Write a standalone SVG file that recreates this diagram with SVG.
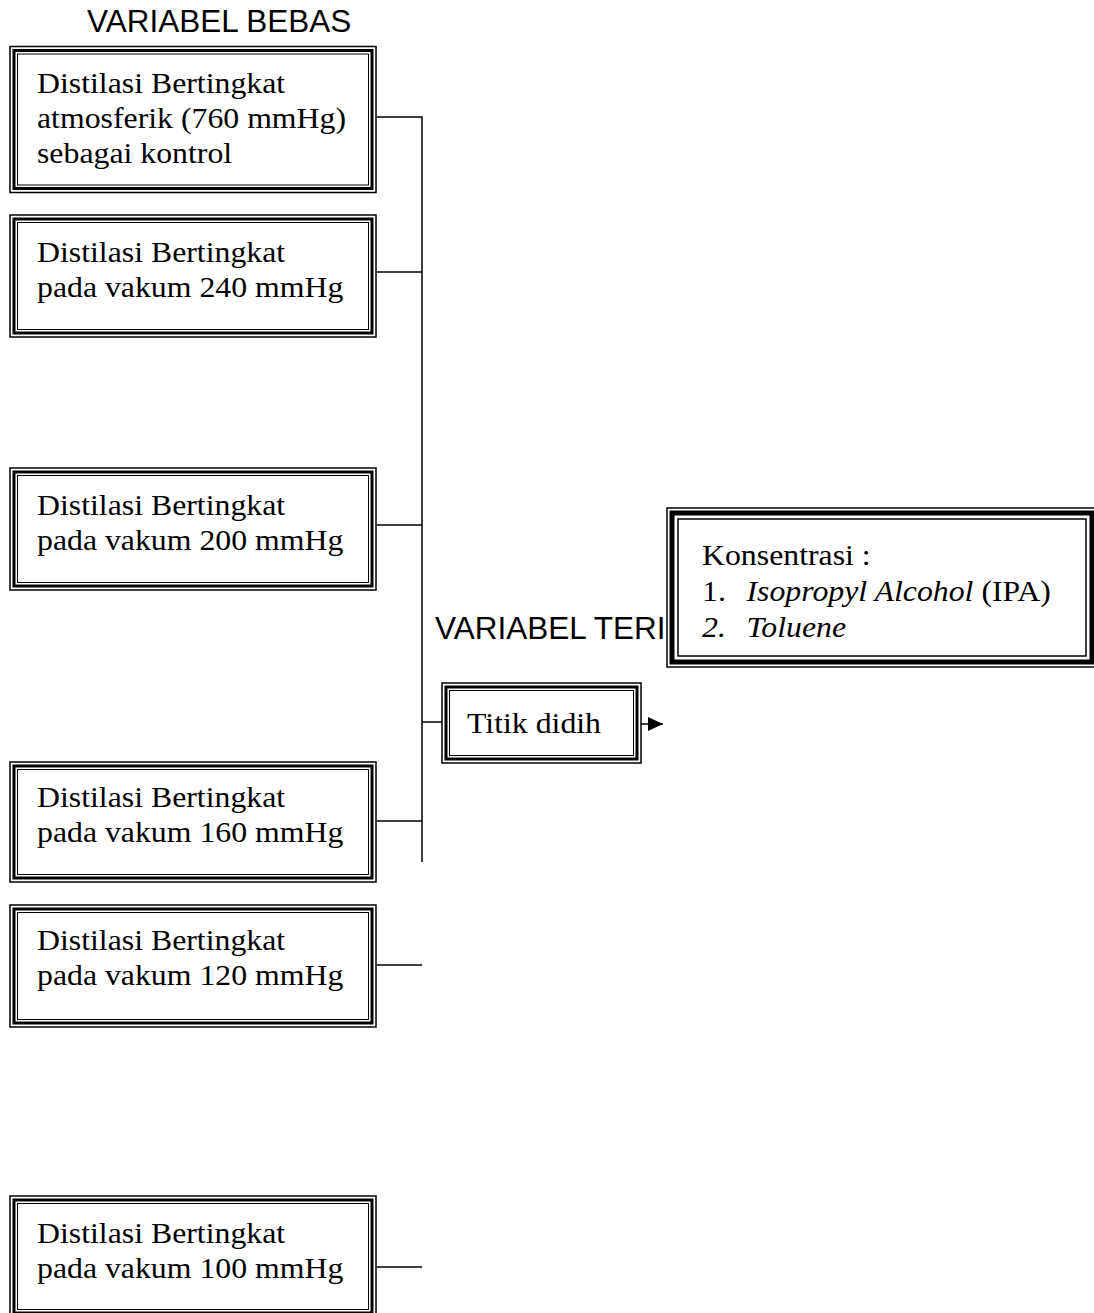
<svg xmlns="http://www.w3.org/2000/svg" width="1094" height="1313" viewBox="0 0 1094 1313">
<style>
.bg{fill:#ffffff}
.o{fill:#ffffff;stroke:#000;stroke-width:1.5}
.m{fill:none;stroke:#000;stroke-width:3}
.i{fill:none;stroke:#000;stroke-width:1}
.mk{fill:none;stroke:#000;stroke-width:5}
.ik{fill:none;stroke:#000;stroke-width:1.5}
.t{font-family:"Liberation Serif","Times New Roman",serif;font-size:30px;fill:#000}
.it{font-style:italic}
.h{font-family:"Liberation Sans",Arial,sans-serif;font-size:31.5px;fill:#000}
.c{fill:none;stroke:#000;stroke-width:1.5}
</style>
<defs>
<marker id="arr" viewBox="0 0 15 14" refX="15" refY="7" markerWidth="15" markerHeight="14" markerUnits="userSpaceOnUse" orient="auto">
<path d="M0,0 L15,7 L0,14 Z" fill="#000"/>
</marker>
</defs>
<rect class="bg" x="0" y="0" width="1094" height="1313"/>

<text class="h" x="87" y="32">VARIABEL BEBAS</text>
<text class="h" x="435" y="639">VARIABEL TERI</text>

<g id="connectors">
<path class="c" d="M377,117 H422 V862"/>
<path class="c" d="M377,272 H422"/>
<path class="c" d="M377,525 H422"/>
<path class="c" d="M377,821 H422"/>
<path class="c" d="M377,965 H422"/>
<path class="c" d="M377,1267 H422"/>
<path class="c" d="M422,722 H442"/>
<path class="c" d="M641,724 H663" marker-end="url(#arr)"/>
</g>

<g id="box-760">
<rect class="o" x="10" y="46.5" width="366" height="146"/>
<rect class="m" x="14" y="50.5" width="358" height="138"/>
<rect class="i" x="17.5" y="54" width="351" height="131"/>
<text class="t" transform="translate(37,93) scale(1.06,1)">Distilasi Bertingkat</text>
<text class="t" transform="translate(37,128) scale(1.06,1)">atmosferik (760 mmHg)</text>
<text class="t" transform="translate(37,163) scale(1.06,1)">sebagai kontrol</text>
</g>

<g id="box-240">
<rect class="o" x="10" y="215" width="366" height="122"/>
<rect class="m" x="14" y="219" width="358" height="114"/>
<rect class="i" x="17.5" y="222.5" width="351" height="107"/>
<text class="t" transform="translate(37,262) scale(1.06,1)">Distilasi Bertingkat</text>
<text class="t" transform="translate(37,297) scale(1.06,1)">pada vakum 240 mmHg</text>
</g>

<g id="box-200">
<rect class="o" x="10" y="468" width="366" height="122"/>
<rect class="m" x="14" y="472" width="358" height="114"/>
<rect class="i" x="17.5" y="475.5" width="351" height="107"/>
<text class="t" transform="translate(37,515) scale(1.06,1)">Distilasi Bertingkat</text>
<text class="t" transform="translate(37,550) scale(1.06,1)">pada vakum 200 mmHg</text>
</g>

<g id="box-160">
<rect class="o" x="10" y="762" width="366" height="120"/>
<rect class="m" x="14" y="766" width="358" height="112"/>
<rect class="i" x="17.5" y="769.5" width="351" height="105"/>
<text class="t" transform="translate(37,807) scale(1.06,1)">Distilasi Bertingkat</text>
<text class="t" transform="translate(37,842) scale(1.06,1)">pada vakum 160 mmHg</text>
</g>

<g id="box-120">
<rect class="o" x="10" y="905" width="366" height="122"/>
<rect class="m" x="14" y="909" width="358" height="114"/>
<rect class="i" x="17.5" y="912.5" width="351" height="107"/>
<text class="t" transform="translate(37,950) scale(1.06,1)">Distilasi Bertingkat</text>
<text class="t" transform="translate(37,985) scale(1.06,1)">pada vakum 120 mmHg</text>
</g>

<g id="box-100">
<rect class="o" x="10" y="1196" width="366" height="121"/>
<rect class="m" x="14" y="1200" width="358" height="113"/>
<rect class="i" x="17.5" y="1203.5" width="351" height="106"/>
<text class="t" transform="translate(37,1243) scale(1.06,1)">Distilasi Bertingkat</text>
<text class="t" transform="translate(37,1278) scale(1.06,1)">pada vakum 100 mmHg</text>
</g>

<g id="box-titik">
<rect class="o" x="442" y="683" width="199" height="80"/>
<rect class="m" x="446" y="687" width="191" height="72"/>
<rect class="i" x="449.5" y="690.5" width="184" height="65"/>
<text class="t" transform="translate(467,733) scale(1.06,1)">Titik didih</text>
</g>

<g id="box-konsentrasi">
<rect class="o" x="667" y="508" width="430" height="159"/>
<rect class="mk" x="672" y="513" width="420" height="149"/>
<rect class="ik" x="678" y="519" width="408" height="137"/>
<text class="t" transform="translate(702,565) scale(1.06,1)">Konsentrasi :</text>
<text class="t" transform="translate(702,601) scale(1.06,1)"><tspan x="0">1.</tspan><tspan x="42" class="it">Isopropyl Alcohol</tspan> (IPA)</text>
<text class="t" transform="translate(702,637) scale(1.06,1)"><tspan x="0" class="it">2.</tspan><tspan x="42" class="it">Toluene</tspan></text>
</g>
</svg>
